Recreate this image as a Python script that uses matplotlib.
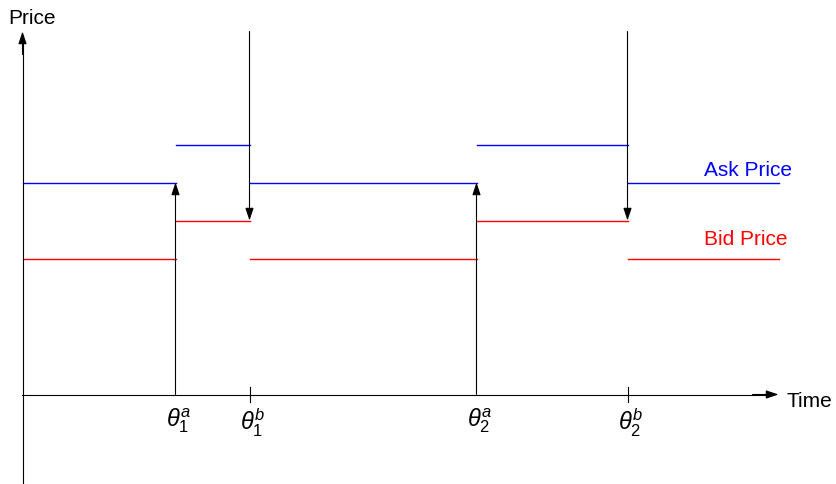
import matplotlib
matplotlib.use("Agg")
from matplotlib import pyplot as plt

plt.rcParams['font.family'] = ['Liberation Sans', 'DejaVu Sans']
plt.rcParams['mathtext.fontset'] = 'custom'
plt.rcParams['mathtext.rm'] = 'Liberation Sans'
plt.rcParams['mathtext.it'] = 'Liberation Sans:italic'

# quote change times (a = ask jump, b = bid jump) and end of the time axis
theta_a = [153, 454]
theta_b = [227, 605]
t_end = 756
time_labels_a = [r'$\theta^a_1$', r'$\theta^a_2$']
time_labels_b = [r'$\theta^b_1$', r'$\theta^b_2$']

# price levels
ask_low, ask_high = 212, 250
bid_low, bid_high = 136, 174

fig = plt.figure(figsize=(8.36, 4.84), dpi=100)
ax = fig.add_axes([0, 0, 1, 1])
# half-unit offsets put the 1px lines on pixel centres
ax.set_xlim(-22.5, 813.5)
ax.set_ylim(-89.5, 394.5)
ax.axis('off')

blue = '#0000ff'
red = '#ff0000'
lw = 1.0

# step segments for ask and bid
starts = [0] + [v for pair in zip(theta_a, theta_b) for v in pair]
ends = starts[1:] + [t_end]
for i, (s, e) in enumerate(zip(starts, ends)):
    high = (i % 2 == 1)
    ax.plot([s, e], [ask_high if high else ask_low] * 2, color=blue, lw=lw)
    ax.plot([s, e], [bid_high if high else bid_low] * 2, color=red, lw=lw)

arrow = dict(arrowstyle='-|>,head_length=0.75,head_width=0.25',
             color='black', lw=0.8, mutation_scale=10,
             shrinkA=0, shrinkB=0)

# axes
ax.plot([0, 0], [-90, 353], color='black', lw=0.8)
ax.annotate('', xy=(0, 363), xytext=(0, 340), arrowprops=arrow)
ax.plot([-1, 746], [0, 0], color='black', lw=0.8)
ax.annotate('', xy=(756, 0), xytext=(730, 0), arrowprops=arrow)

# ask jumps: arrow up from the time axis; bid jumps: arrow down from the top
for t in theta_a:
    ax.annotate('', xy=(t, ask_low), xytext=(t, 0), arrowprops=arrow)
for t in theta_b:
    ax.annotate('', xy=(t, bid_high), xytext=(t, 363), arrowprops=arrow)
    ax.plot([t, t], [-7, 8], color='black', lw=0.8)

for t, lab in zip(theta_a + theta_b, time_labels_a + time_labels_b):
    ax.text(t + 3, -12, lab, ha='center', va='top', fontsize=17)

ax.text(-14, 376, 'Price', ha='left', va='center', fontsize=15)
ax.text(764, -7, 'Time', ha='left', va='center', fontsize=15)
ax.text(681, 224, 'Ask Price', ha='left', va='center', fontsize=15, color=blue)
ax.text(681, 155, 'Bid Price', ha='left', va='center', fontsize=15, color=red)

fig.savefig('out.png', dpi=100)
